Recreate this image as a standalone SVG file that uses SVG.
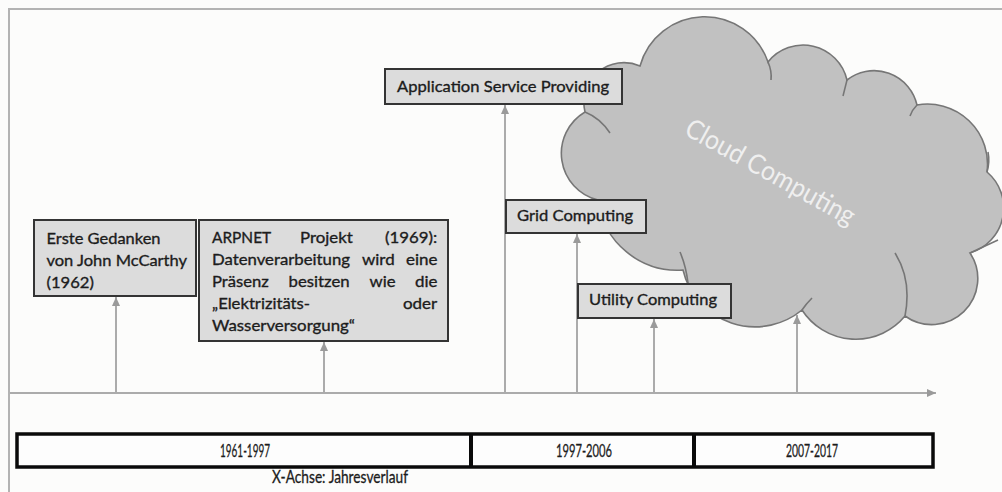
<svg xmlns="http://www.w3.org/2000/svg" width="1002" height="492" viewBox="0 0 1002 492">
  <style>
    .frame { stroke: #b3b3b3; stroke-width: 2; fill: none; }
    .cloud { fill: #c1c1c1; stroke: #767676; stroke-width: 1.6; }
    .curl { fill: none; stroke: #767676; stroke-width: 1.6; }
    .conn { stroke: #ababab; stroke-width: 2; fill: none; }
    .box { fill: #dcdcdc; stroke: #343434; stroke-width: 2; }
    .lbl { font-family: Lato, "Liberation Sans", sans-serif; font-size: 16px; fill: #1c1c1c; stroke: #1c1c1c; stroke-width: 0.35; }
    .bar { fill: #fdfdfd; stroke: #0a0a0a; stroke-width: 3.5; }
    .div { stroke: #0a0a0a; stroke-width: 4; }
    .bartxt { font-family: Lato, "Liberation Sans", sans-serif; font-size: 17px; fill: #1c1c1c; stroke: #1c1c1c; stroke-width: 0.3; text-anchor: middle; }
    .cloudtxt { font-family: Lato, "Open Sans", sans-serif; font-size: 27px; fill: #efefef; text-anchor: middle; }
  </style>
  <defs>
    <marker id="tip" markerUnits="userSpaceOnUse" markerWidth="10" markerHeight="10" refX="9" refY="4" orient="auto">
      <path d="M0,0 L9,4 L0,8 Z" fill="#9a9a9a"/>
    </marker>
  </defs>

  <!-- page background and frame -->
  <rect x="0" y="0" width="1002" height="492" fill="#fcfcfb"/>
  <path class="frame" d="M9,492 V9 H1002"/>

  <!-- cloud -->
  <g id="cloud">
    <path class="cloud" d="M598,200 A48,48 0 0 1 585,112 A40,40 0 0 1 640,66 A67,67 0 0 1 768,62 A45,45 0 0 1 847,80 A44,44 0 0 1 917,105 A60,60 0 0 1 987,172 A47,47 0 0 1 970,253 A46,46 0 0 1 905,316 A64,64 0 0 1 802,310 A74,74 0 0 1 683,270 A80,80 0 0 1 598,200 Z"/>
    <path class="curl" d="M585,112 Q600,118 610,133"/>
    <path class="curl" d="M768,62 Q772,71 771,80"/>
    <path class="curl" d="M847,80 Q845,88 843,96"/>
    <path class="curl" d="M917,105 Q912,110 910,116"/>
    <path class="curl" d="M987,172 Q990,162 988,152"/>
    <path class="curl" d="M970,253 Q985,246 998,240"/>
    <path class="curl" d="M895,253 Q912,280 905,316"/>
    <path class="curl" d="M812,298 Q806,304 802,310"/>
    <path class="curl" d="M680,252 Q686,266 688,283"/>
    <text class="cloudtxt" transform="translate(766,180) rotate(29)" textLength="190" lengthAdjust="spacingAndGlyphs">Cloud Computing</text>
  </g>

  <!-- time axis and event connectors -->
  <g id="connectors">
    <line class="conn" x1="10" y1="393" x2="936" y2="393" marker-end="url(#tip)"/>
    <line class="conn" x1="116" y1="393" x2="116" y2="297" marker-end="url(#tip)"/>
    <line class="conn" x1="324" y1="393" x2="324" y2="342" marker-end="url(#tip)"/>
    <line class="conn" x1="505" y1="393" x2="505" y2="105" marker-end="url(#tip)"/>
    <line class="conn" x1="577" y1="393" x2="577" y2="234" marker-end="url(#tip)"/>
    <line class="conn" x1="654" y1="393" x2="654" y2="319" marker-end="url(#tip)"/>
    <line class="conn" x1="797" y1="393" x2="797" y2="315" marker-end="url(#tip)"/>
  </g>

  <g id="mccarthy">
    <rect class="box" x="34" y="220" width="162" height="76"/>
    <text class="lbl" x="46.5" y="244" textLength="114" lengthAdjust="spacingAndGlyphs">Erste Gedanken</text>
    <text class="lbl" x="46.5" y="266" textLength="140.5" lengthAdjust="spacingAndGlyphs">von John McCarthy</text>
    <text class="lbl" x="46.5" y="288" textLength="47.4" lengthAdjust="spacingAndGlyphs">(1962)</text>
  </g>

  <g id="arpnet">
    <rect class="box" x="199" y="220" width="249" height="121"/>
    <text class="lbl" y="243">
      <tspan x="212" textLength="58.7" lengthAdjust="spacingAndGlyphs">ARPNET</tspan>
      <tspan x="300" textLength="52.7" lengthAdjust="spacingAndGlyphs">Projekt</tspan>
      <tspan x="385" textLength="52.2" lengthAdjust="spacingAndGlyphs">(1969):</tspan>
    </text>
    <text class="lbl" y="265">
      <tspan x="212" textLength="138" lengthAdjust="spacingAndGlyphs">Datenverarbeitung</tspan>
      <tspan x="362" textLength="32.7" lengthAdjust="spacingAndGlyphs">wird</tspan>
      <tspan x="406" textLength="31.5" lengthAdjust="spacingAndGlyphs">eine</tspan>
    </text>
    <text class="lbl" y="287">
      <tspan x="212" textLength="56.8" lengthAdjust="spacingAndGlyphs">Präsenz</tspan>
      <tspan x="288.5" textLength="61.1" lengthAdjust="spacingAndGlyphs">besitzen</tspan>
      <tspan x="369.5" textLength="26" lengthAdjust="spacingAndGlyphs">wie</tspan>
      <tspan x="415" textLength="22.5" lengthAdjust="spacingAndGlyphs">die</tspan>
    </text>
    <text class="lbl" y="309">
      <tspan x="212" textLength="98" lengthAdjust="spacingAndGlyphs">„Elektrizitäts-</tspan>
      <tspan x="403" textLength="34.2" lengthAdjust="spacingAndGlyphs">oder</tspan>
    </text>
    <text class="lbl" x="212" y="331" textLength="143" lengthAdjust="spacingAndGlyphs">Wasserversorgung“</text>
  </g>

  <g id="asp">
    <rect class="box" x="385" y="69" width="237" height="35"/>
    <text class="lbl" x="397" y="92" textLength="212" lengthAdjust="spacingAndGlyphs">Application Service Providing</text>
  </g>

  <g id="grid">
    <rect class="box" x="506" y="200" width="140" height="33"/>
    <text class="lbl" x="517" y="221" textLength="116" lengthAdjust="spacingAndGlyphs">Grid Computing</text>
  </g>

  <g id="utility">
    <rect class="box" x="578" y="284" width="153" height="34"/>
    <text class="lbl" x="589" y="305" textLength="128" lengthAdjust="spacingAndGlyphs">Utility Computing</text>
  </g>

  <!-- period bar -->
  <g id="periods">
    <rect class="bar" x="17" y="434" width="916" height="33"/>
    <line class="div" x1="471" y1="434" x2="471" y2="467"/>
    <line class="div" x1="694" y1="434" x2="694" y2="467"/>
    <text class="bartxt" x="245" y="456.5" textLength="50" lengthAdjust="spacingAndGlyphs">1961-1997</text>
    <text class="bartxt" x="584" y="456.5" textLength="56" lengthAdjust="spacingAndGlyphs">1997-2006</text>
    <text class="bartxt" x="812" y="456.5" textLength="52" lengthAdjust="spacingAndGlyphs">2007-2017</text>
    <text class="bartxt" x="340" y="483" textLength="136" lengthAdjust="spacingAndGlyphs">X-Achse: Jahresverlauf</text>
  </g>
</svg>
